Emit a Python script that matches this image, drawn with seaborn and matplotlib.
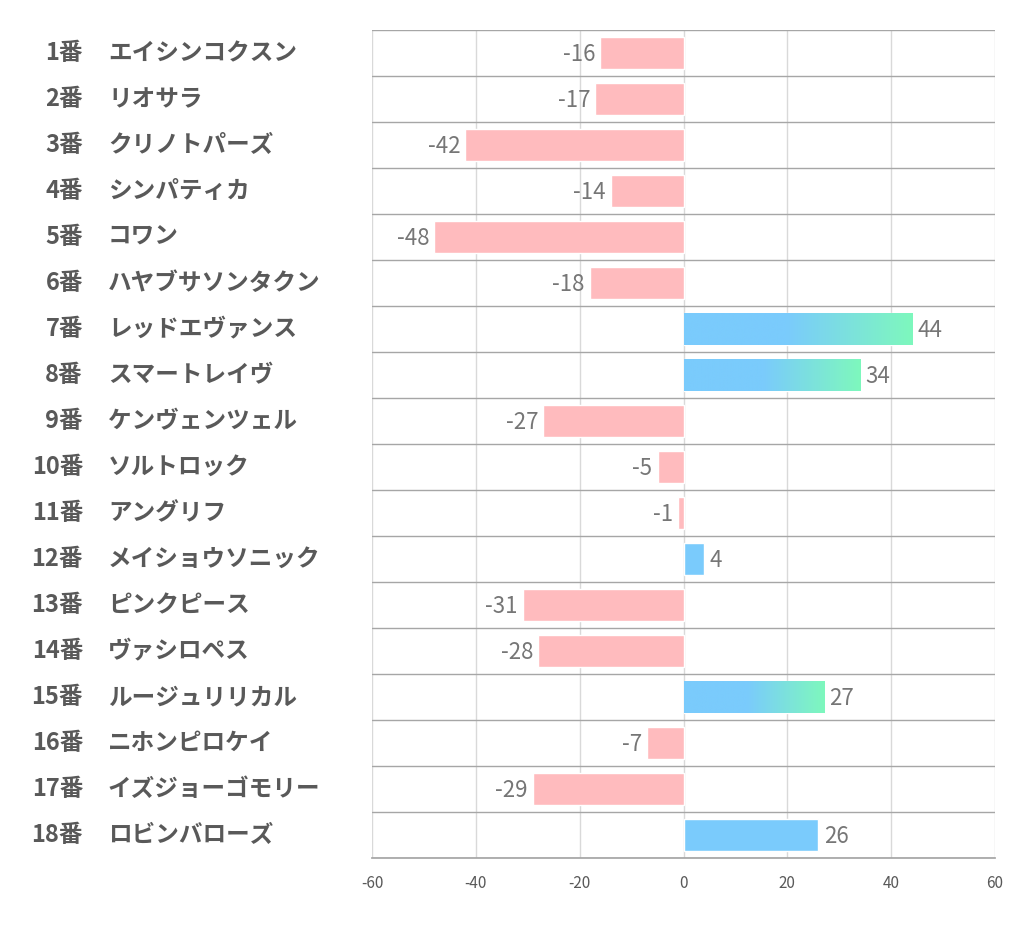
import numpy as np
import pandas as pd
import matplotlib
matplotlib.use('Agg')
import matplotlib.pyplot as plt
import matplotlib.transforms as mtransforms
from matplotlib.colors import LinearSegmentedColormap
import seaborn as sns

# data
numbers = ['1番', '2番', '3番', '4番', '5番', '6番', '7番', '8番', '9番',
           '10番', '11番', '12番', '13番', '14番', '15番', '16番', '17番', '18番']
horses = ['エイシンコクスン', 'リオサラ', 'クリノトパーズ', 'シンパティカ', 'コワン',
          'ハヤブサソンタクン', 'レッドエヴァンス', 'スマートレイヴ', 'ケンヴェンツェル',
          'ソルトロック', 'アングリフ', 'メイショウソニック', 'ピンクピース', 'ヴァシロペス',
          'ルージュリリカル', 'ニホンピロケイ', 'イズジョーゴモリー', 'ロビンバローズ']
values = [-16, -17, -42, -14, -48, -18, 44, 34, -27, -5, -1, 4, -31, -28, 27, -7, -29, 26]
xticks = [-60, -40, -20, 0, 20, 40, 60]

sns.set_theme(style='white')
plt.rcParams['font.family'] = ['Noto Sans CJK JP', 'DejaVu Sans']

PINK = '#ffbbbe'
BLUE = '#7acbfc'
GREEN = '#7ef8bd'
TEXT = '#595959'
VAL = '#767676'

df = pd.DataFrame({'row': [str(i) for i in range(len(values))], 'value': values})
df['sign'] = np.where(df['value'] >= 0, 'pos', 'neg')

fig = plt.figure(figsize=(10.22, 9.39), dpi=100)
ax = fig.add_axes([372 / 1022, 1 - 858 / 939, (995 - 372) / 1022, (858 - 30) / 939])

sns.barplot(data=df, x='value', y='row', hue='sign', palette={'pos': BLUE, 'neg': PINK},
            orient='h', dodge=False, width=0.68, saturation=1, legend=False, ax=ax, zorder=2)

ax.set_xlim(-60, 60)
ax.set_ylim(len(values) - 0.5, -0.5)
ax.set_xticks(xticks)
ax.set_xticklabels([str(t) for t in xticks], fontsize=11, color=TEXT)
ax.set_yticks([])
ax.set_ylabel('')
ax.set_xlabel('')
ax.tick_params(axis='x', length=0, pad=12)

# vertical grid and row separators
for t in xticks:
    ax.axvline(t, color='#d9d9d9', lw=1, zorder=1)
for i in range(len(values) + 1):
    ax.axhline(i - 0.5, color='#a6a6a6', lw=1, zorder=1)
for s in ['top', 'right', 'left']:
    ax.spines[s].set_visible(False)
ax.spines['bottom'].set_color('#a6a6a6')

# gradient on the top three positive bars
cmap = LinearSegmentedColormap.from_list('grad', [(0, BLUE), (0.45, BLUE), (1, GREEN)])
top = sorted([v for v in values if v > 0], reverse=True)[:3]
grad = np.linspace(0, 1, 256).reshape(1, -1)
for p in ax.patches:
    w = p.get_width()
    if w > 0 and w in top:
        y0 = p.get_y()
        h = p.get_height()
        im = ax.imshow(grad, cmap=cmap, aspect='auto', extent=[0, w, y0 + h, y0],
                       zorder=3, interpolation='bilinear')
        im.set_clip_path(p)
ax.set_xlim(-60, 60)
ax.set_ylim(len(values) - 0.5, -0.5)

# value labels
for i, v in enumerate(values):
    if v < 0:
        ax.text(v - 1.0, i + 0.04, str(v), ha='right', va='center', fontsize=16, color=VAL, zorder=4)
    else:
        ax.text(v + 1.0, i + 0.04, str(v), ha='left', va='center', fontsize=16, color=VAL, zorder=4)

# row labels on the left
trans = mtransforms.blended_transform_factory(fig.transFigure, ax.transData)
for i, (n, name) in enumerate(zip(numbers, horses)):
    ax.text(83 / 1022, i, n, transform=trans, ha='right', va='center',
            fontsize=17, fontweight='bold', color=TEXT)
    ax.text(108 / 1022, i, name, transform=trans, ha='left', va='center',
            fontsize=17, fontweight='bold', color=TEXT)

fig.savefig('out.png', dpi=100)
